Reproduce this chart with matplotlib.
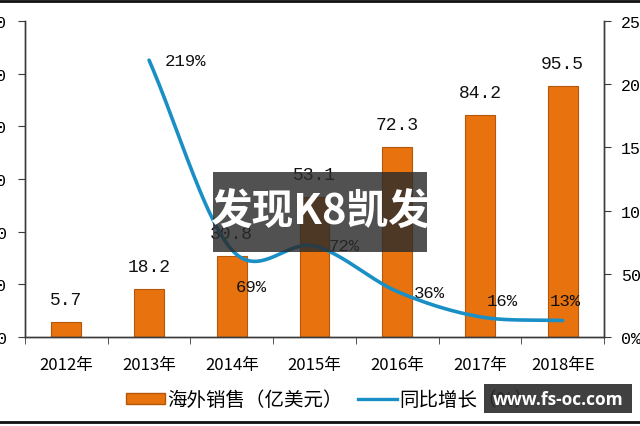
import numpy as np
import matplotlib
matplotlib.use("Agg")
import matplotlib.pyplot as plt
from matplotlib.patches import Rectangle
from matplotlib.lines import Line2D

plt.rcParams['font.family'] = ['Noto Sans CJK SC', 'DejaVu Sans']

categories = ["2012年", "2013年", "2014年", "2015年", "2016年", "2017年", "2018年E"]
sales = [5.7, 18.2, 30.8, 53.1, 72.3, 84.2, 95.5]
growth_years = [1, 2, 3, 4, 5, 6]
growth = [219, 69, 72, 36, 16, 13]
growth_labels = ["219%", "69%", "72%", "36%", "16%", "13%"]
left_ticks = [0, 20, 40, 60, 80, 100, 120]
right_ticks = [0, 50, 100, 150, 200, 250]
right_ticklabels = ["0%", "50%", "100%", "150%", "200%", "250%"]
legend_labels = ["海外销售（亿美元）", "同比增长（%）"]

# style: label offsets in pixels (dx, dy)
label_offsets = [(36, 0), (20, -37), (30, 0), (32, -1), (22, 16), (3, 20)]

bar_color = "#E8720E"
bar_edge = "#B3580A"
line_color = "#1A8FC6"
axis_color = "#3a3a3a"

fig = plt.figure(figsize=(6.4, 4.27), dpi=100)
ax = fig.add_axes([25/640, 1-338/427, (604-25)/640, (338-22)/427])
ax2 = ax.twinx()

x = np.arange(len(categories))
ax.bar(x, sales, width=0.36, color=bar_color, edgecolor=bar_edge, linewidth=0.8, zorder=2)
for xi, v in zip(x, sales):
    ax.annotate(f"{v}", (xi, v), xytext=(0, 14), textcoords="offset pixels",
                ha="center", va="bottom", fontsize=13, family="Liberation Mono", color="#111111")

ax.set_xlim(-0.5, len(categories) - 0.5)
ax.set_ylim(0, 120)
ax.set_yticks(left_ticks)
ax.set_yticklabels([str(t) for t in left_ticks], fontsize=12, family="Liberation Mono")
ax.set_xticks(x)
ax.set_xticklabels(categories, fontsize=12)
ax.set_xticks(np.arange(-0.5, len(categories) + 0.5, 1), minor=True)
ax.tick_params(axis="x", which="major", length=0, pad=14)
ax.tick_params(axis="x", which="minor", length=5, direction="out", color=axis_color)
ax.tick_params(axis="y", length=5, direction="out", color=axis_color, pad=8)

for a in (ax, ax2):
    a.spines["top"].set_visible(False)
    for s in ("left", "right", "bottom"):
        a.spines[s].set_color(axis_color)
        a.spines[s].set_linewidth(1.0)

# smooth line (Catmull-Rom style drawing through the data points)
gx = np.array(growth_years, dtype=float)
gy = np.array(growth, dtype=float)
n = len(gx)
m = np.zeros(n)
for i in range(n):
    if i == 0:
        m[i] = (gy[1] - gy[0]) / (gx[1] - gx[0])
    elif i == n - 1:
        m[i] = (gy[-1] - gy[-2]) / (gx[-1] - gx[-2])
    else:
        m[i] = (gy[i+1] - gy[i-1]) / (gx[i+1] - gx[i-1])
xs, ys = [], []
for i in range(n - 1):
    t = np.linspace(0, 1, 40)
    h = gx[i+1] - gx[i]
    h00 = 2*t**3 - 3*t**2 + 1
    h10 = t**3 - 2*t**2 + t
    h01 = -2*t**3 + 3*t**2
    h11 = t**3 - t**2
    xs.append(gx[i] + t*h)
    ys.append(h00*gy[i] + h10*h*m[i] + h01*gy[i+1] + h11*h*m[i+1])
xs = np.concatenate(xs)
ys = np.concatenate(ys)
ax2.plot(xs, ys, color=line_color, linewidth=2.6, solid_capstyle="round", zorder=3)
ax2.set_ylim(0, 250)
ax2.set_yticks(right_ticks)
ax2.set_yticklabels(right_ticklabels, fontsize=12, family="Liberation Mono")
ax2.tick_params(axis="y", length=5, direction="out", color=axis_color, pad=7)

for xi, v, lab, off in zip(growth_years, growth, growth_labels, label_offsets):
    ax2.annotate(lab, (xi, v), xytext=off, textcoords="offset pixels",
                 ha="center", va="center", fontsize=12.5, family="Liberation Mono", color="#111111")

# legend
handles = [Rectangle((0, 0), 1, 1, facecolor=bar_color, edgecolor=bar_edge),
           Line2D([0], [0], color=line_color, linewidth=2.4)]
leg = fig.legend(handles, legend_labels, loc="center", bbox_to_anchor=(330/640, 1-401/427),
                 ncol=2, frameon=False, fontsize=14, handlelength=2.0, handleheight=0.5,
                 handletextpad=0.1, columnspacing=0.8)

# overlay boxes
fig.patches.append(Rectangle((213/640, 1-253/427), (427-213)/640, 80/427, transform=fig.transFigure,
                             facecolor="#2b2b2b", alpha=0.82, zorder=10))
fig.text(320/640, 1-213/427, "发现K8凯发", ha="center", va="center", fontsize=30,
         fontweight="bold", color="white", zorder=11)
fig.patches.append(Rectangle((484/640, 1-414/427), (632-484)/640, 29/427, transform=fig.transFigure,
                             facecolor="#2b2b2b", alpha=0.9, zorder=10))
fig.text(558/640, 1-400/427, "www.fs-oc.com", ha="center", va="center", fontsize=12.5,
         fontweight="bold", color="white", zorder=11, family="Open Sans")

# border lines
fig.add_artist(Line2D([0, 1], [1-2/427, 1-2/427], transform=fig.transFigure, color="#111111", linewidth=2))
fig.add_artist(Line2D([0, 1], [1-423/427, 1-423/427], transform=fig.transFigure, color="#111111", linewidth=2))

fig.savefig("out.png", dpi=100)
